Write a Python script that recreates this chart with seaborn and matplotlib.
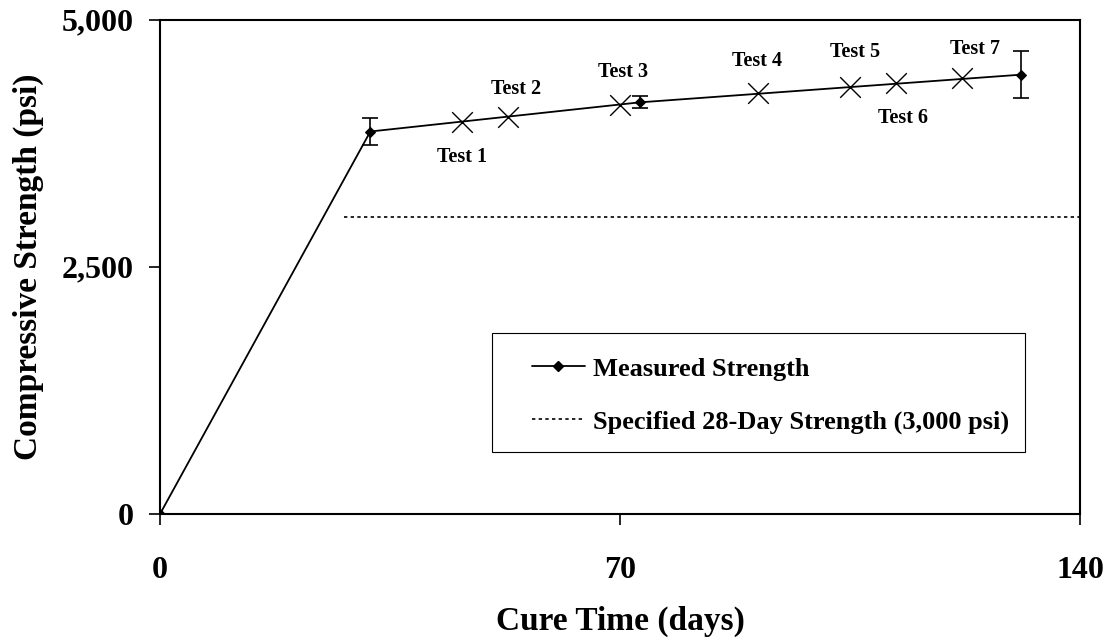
import matplotlib
matplotlib.use("Agg")
import matplotlib.pyplot as plt
import seaborn as sns
import pandas as pd
from matplotlib.lines import Line2D
from matplotlib.patches import Rectangle

# Measured strength series
cure_days = [0, 32, 73, 131]
strength = [0, 3870, 4165, 4445]
strength_err = [0, 140, 60, 235]

# Test points
test_labels = ["Test 1", "Test 2", "Test 3", "Test 4", "Test 5", "Test 6", "Test 7"]
test_days = [46, 53, 70, 91, 105, 112, 122]
test_strength = [3970, 4020, 4140, 4258, 4325, 4360, 4410]

# Specified strength line
spec_days = [28, 140]
spec_strength = [3000, 3000]

sns.set_theme(style="ticks")
plt.rcParams['font.family'] = ['Liberation Serif', 'DejaVu Serif']
plt.rcParams['font.weight'] = 'bold'
for k in ["text.color", "axes.labelcolor", "xtick.color", "ytick.color", "axes.edgecolor"]:
    plt.rcParams[k] = "black"

fig = plt.figure(figsize=(11.13, 6.40), dpi=100)
ax = fig.add_axes([0.1438, 0.197, 0.9704 - 0.1438, 0.969 - 0.197])

df = pd.DataFrame({"days": cure_days, "strength": strength})
sns.lineplot(data=df, x="days", y="strength", ax=ax, color="black", lw=1.3,
             marker="D", markersize=5, markeredgecolor="black", legend=False)
ax.errorbar(cure_days[1:], strength[1:], yerr=strength_err[1:], fmt="none",
            ecolor="black", elinewidth=1.2, capsize=6, capthick=1.2)

tdf = pd.DataFrame({"days": test_days, "strength": test_strength})
sns.scatterplot(data=tdf, x="days", y="strength", ax=ax, marker="x", s=220,
                color="black", linewidth=1.0, legend=False, zorder=5)

sdf = pd.DataFrame({"days": spec_days, "strength": spec_strength})
sns.lineplot(data=sdf, x="days", y="strength", ax=ax, color="black", lw=1.2,
             linestyle=(0, (2, 2)), legend=False)

offsets = {
    "Test 1": (0, -35), "Test 2": (8, 28), "Test 3": (3, 33), "Test 4": (-1, 32),
    "Test 5": (5, 35), "Test 6": (7, -35), "Test 7": (13, 29),
}
for lab, xd, yd in zip(test_labels, test_days, test_strength):
    ox, oy = offsets[lab]
    ax.annotate(lab, (xd, yd), xytext=(ox, oy), textcoords="offset pixels",
                ha="center", va="center", fontsize=14.5, fontweight="bold")

ax.set_xlim(0, 140)
ax.set_ylim(0, 5000)
ax.set_xticks([0, 70, 140])
ax.set_yticks([0, 2500, 5000])
ax.set_yticklabels(["0", "2,500", "5,000"])
ax.tick_params(axis="both", labelsize=23, length=8, width=1.2, direction="out")
ax.tick_params(axis="x", pad=22)
ax.tick_params(axis="y", pad=11)
for lbl in ax.get_xticklabels() + ax.get_yticklabels():
    lbl.set_fontweight("bold")
for sp in ax.spines.values():
    sp.set_visible(True)
    sp.set_linewidth(1.5)
    sp.set_color("black")

ax.set_xlabel("Cure Time (days)", fontsize=24, fontweight="bold", va="center")
ax.xaxis.set_label_coords(0.5, -0.217)
ax.set_ylabel("Compressive Strength (psi)", fontsize=24, fontweight="bold", va="center")
ax.yaxis.set_label_coords(-0.1435, 0.5)

# legend frame
ax.add_patch(Rectangle((0.361, 0.126), 0.579, 0.24, transform=ax.transAxes,
                       facecolor="white", edgecolor="black", lw=0.8, zorder=6))
handles = [
    Line2D([], [], color="black", lw=1.3, marker="D", markersize=5),
    Line2D([], [], color="black", lw=1.2, linestyle=(0, (2, 2))),
]
leg = ax.legend(handles, ["Measured Strength", "Specified 28-Day Strength (3,000 psi)"],
                loc="center left", bbox_to_anchor=(0.4043, 0.240),
                frameon=False, prop={"size": 19, "weight": "bold"},
                handlelength=2.0, labelspacing=1.1, borderpad=0, borderaxespad=0,
                handletextpad=0.3)
leg.set_zorder(7)

fig.savefig("out.png", dpi=100)
